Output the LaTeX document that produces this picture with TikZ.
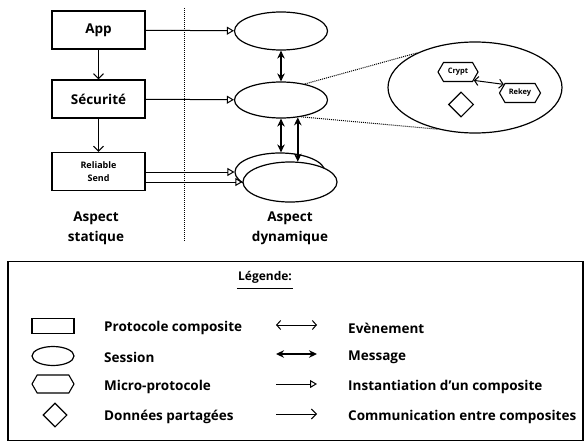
\documentclass[tikz,border=0pt]{standalone}
\usepackage{fontspec}
\setmainfont{Open Sans}
\usetikzlibrary{arrows.meta,shapes.geometric,shapes.symbols}
\begin{document}
\begin{tikzpicture}[x=1pt,y=-1pt,
  font=\bfseries\fontsize{13.5}{16}\selectfont,
  pbox/.style={draw, line width=1.2pt, minimum width=93pt, minimum height=38pt, inner sep=0pt},
  sess/.style={draw, ellipse, line width=1.2pt, inner sep=0pt},
  micro/.style={draw, signal, signal to=east and west, signal pointer angle=120, line width=1.1pt, inner sep=0pt},
  shared/.style={draw, diamond, line width=1.1pt, inner sep=0pt},
  inst/.style={line width=1pt, -{Triangle[open,length=7pt,width=8pt,line width=1pt]}},
  comm/.style={line width=1pt, -{Straight Barb[length=5pt,width=10pt,line width=1pt]}},
  msg/.style={line width=1.6pt, {Stealth[length=8pt,width=7.5pt]}-{Stealth[length=8pt,width=7.5pt]}},
  evt/.style={line width=1pt, {Straight Barb[length=4pt,width=9pt]}-{Straight Barb[length=4pt,width=9pt]}},
  zoomline/.style={line width=1pt, densely dotted},
  lbl/.style={anchor=west, inner sep=0pt},
]
\useasboundingbox (0,0) rectangle (585,441);

% static boxes
\node[pbox] (app) at (98.5,30) {App};
\node[pbox] (sec) at (98.5,99) {Sécurité};
\node[pbox, align=center, font=\bfseries\fontsize{9}{13}\selectfont] (rs) at (98.5,171.5) {Reliable\\Send};
\draw[comm] (app) -- (sec);
\draw[comm] (sec) -- (rs);

% separator
\coordinate (sepT) at (184,8);
\coordinate (sepB) at (184,241);
\draw[line width=1pt, densely dotted] (sepT) -- (sepB);

% sessions
\node[sess, minimum width=93pt, minimum height=38pt] (s1) at (281,31) {};
\node[sess, minimum width=93pt, minimum height=36pt] (s2) at (281,100) {};
\node[sess, minimum width=90pt, minimum height=38pt] (s3) at (280,172) {};
\node[sess, fill=white, minimum width=94pt, minimum height=40pt] (s4) at (290,182) {};

\draw[inst] (app) -- (s1);
\draw[inst] (sec) -- (s2);
\draw[inst] (rs.east |- s3.west) -- (s3.west);
\draw[inst] (rs.east |- s4.west) -- (s4.west);

\draw[msg] (s1) -- (s2);
\draw[msg] (s2.south) -- (s2.south |- s3.north);
\draw[msg] (s2.-46.6) -- (s2.-46.6 |- s4.70.5);

% zoomed session
\node[sess, minimum width=174pt, minimum height=91pt] (big) at (475,87.5) {};
\draw[zoomline] (s2.34) -- (big.149.4);
\draw[zoomline] (s2.-40.8) -- (big.-132.5);
\node[micro, minimum width=40pt, minimum height=19pt, font=\bfseries\fontsize{7.5}{9}\selectfont] (crypt) at (458,72) {Crypt};
\node[micro, minimum width=41pt, minimum height=19pt, font=\bfseries\fontsize{7.5}{9}\selectfont] (rekey) at (520,93) {Rekey};
\draw[evt] (crypt.-28) -- (rekey.152);
\node[shared, minimum width=25pt, minimum height=25pt] (data) at (461,104.5) {};

% aspect labels
\node[align=center, font=\bfseries\fontsize{13.5}{20}\selectfont] (stat) at (96,228) {Aspect\\statique};
\node[align=center, font=\bfseries\fontsize{13.5}{20}\selectfont] (dyn) at (290,228) {Aspect\\dynamique};

% legend
\node[draw, line width=1.2pt, minimum width=575pt, minimum height=179pt, inner sep=0pt] (leg) at (295.5,351) {};
\node[font=\bfseries\fontsize{12}{14}\selectfont, inner sep=1pt] (legt) at (265,277) {Légende:};
\draw[line width=1.2pt] (legt.south west) ++(0,4) coordinate (ul1) -- (legt.south east |- ul1);

\node[draw, line width=1.2pt, minimum width=42pt, minimum height=15pt, inner sep=0pt] (k1) at (53,326) {};
\node[sess, minimum width=42pt, minimum height=19pt] (k2) at (53,356) {};
\node[micro, minimum width=42pt, minimum height=18pt] (k3) at (53,384) {};
\node[shared, minimum width=24pt, minimum height=24pt] (k4) at (55,415) {};

\node[lbl] (t1) at (104,328) {Protocole composite};
\node[lbl] (t2) at (104,357) {Session};
\node[lbl] (t3) at (104,387) {Micro-protocole};
\node[lbl] (t4) at (104,417) {Données partagées};

\coordinate (a1s) at (276,325); \coordinate (a1e) at (317,325);
\coordinate (a2s) at (276,354); \coordinate (a2e) at (317,354);
\coordinate (a3s) at (276,384); \coordinate (a3e) at (317,384);
\coordinate (a4s) at (276,414); \coordinate (a4e) at (317,414);
\draw[evt] (a1s) -- (a1e);
\draw[msg] (a2s) -- (a2e);
\draw[inst] (a3s) -- (a3e);
\draw[comm] (a4s) -- (a4e);

\node[lbl] (r1) at (348,328) {Evènement};
\node[lbl] (r2) at (348,357) {Message};
\node[lbl] (r3) at (348,387) {Instantiation d'un composite};
\node[lbl] (r4) at (348,417) {Communication entre composites};
\end{tikzpicture}
\end{document}
